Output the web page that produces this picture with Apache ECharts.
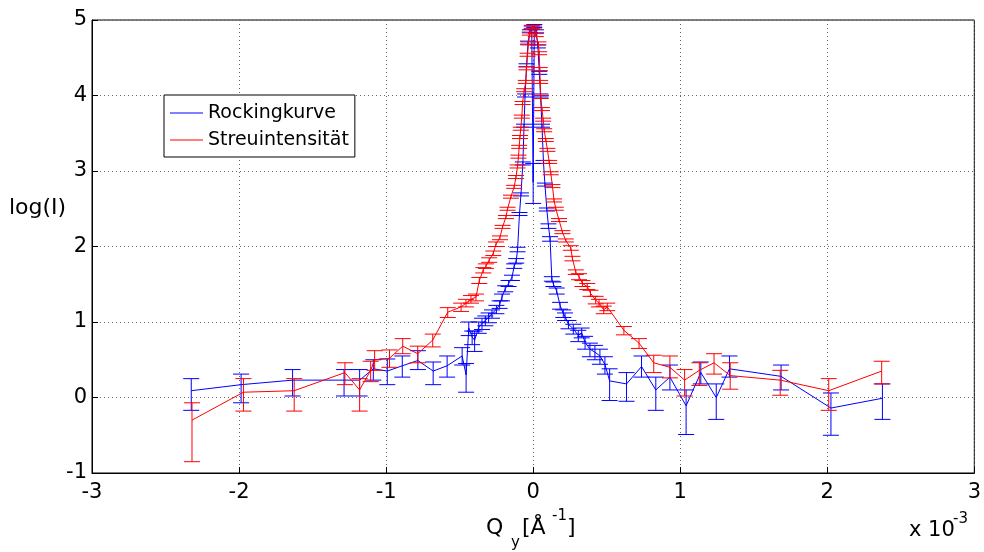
<!DOCTYPE html>
<html>
<head>
<meta charset="utf-8">
<script src="https://cdn.jsdelivr.net/npm/echarts@6/dist/echarts.min.js"></script>
<style>
html,body{margin:0;padding:0;background:#fff;}
#chart{width:984px;height:552px;}
</style>
</head>
<body>
<div id="chart"></div>
<script>
// x values in units of 1e-3 Å^-1, y = log(I)
var xTicks = [-3, -2, -1, 0, 1, 2, 3];
var yTicks = [-1, 0, 1, 2, 3, 4, 5];

// Rockingkurve (blue)
var rockX = [-2.325,-1.986,-1.636,-1.286,-1.18,-1.087,-0.992,-0.89,-0.784,-0.68,-0.585,-0.483,-0.456,-0.438,-0.415,-0.398,-0.37,-0.348,-0.325,-0.303,-0.28,-0.25,-0.228,-0.212,-0.19,-0.167,-0.144,-0.129,-0.115,-0.106,-0.093,-0.083,-0.07,-0.062,-0.055,-0.045,-0.035,-0.022,-0.01,0.0,0.008,0.02,0.032,0.042,0.05,0.06,0.07,0.08,0.093,0.104,0.115,0.127,0.138,0.16,0.183,0.205,0.217,0.24,0.273,0.307,0.33,0.353,0.386,0.42,0.454,0.488,0.52,0.635,0.737,0.834,0.93,1.04,1.14,1.245,1.335,1.686,2.025,2.375];
var rockY = [0.09,0.17,0.23,0.23,0.23,0.38,0.35,0.42,0.49,0.35,0.42,0.55,0.30,0.92,0.80,0.76,0.93,0.98,1.02,1.06,1.11,1.17,1.23,1.33,1.44,1.51,1.59,1.74,1.81,1.96,2.43,2.69,3.10,3.60,4.00,4.40,4.70,4.85,4.90,2.85,4.92,4.85,4.65,4.30,4.00,3.60,3.12,2.82,2.49,2.27,2.10,1.57,1.50,1.41,1.22,1.11,1.07,0.97,0.91,0.82,0.86,0.73,0.64,0.60,0.55,0.44,0.22,0.18,0.41,0.10,0.27,-0.11,0.33,0.00,0.38,0.28,-0.14,-0.01];
var rockErrLow = [0.26,0.24,0.21,0.21,0.21,0.15,0.18,0.15,0.12,0.18,0.15,0.12,0.23,0.10,0.10,0.15,0.08,0.08,0.07,0.07,0.06,0.06,0.05,0.05,0.04,0.04,0.04,0.03,0.03,0.03,0.02,0.02,0.02,0.02,0.02,0.02,0.02,0.02,0.02,0.28,0.02,0.02,0.02,0.02,0.02,0.02,0.02,0.02,0.02,0.03,0.03,0.03,0.03,0.04,0.05,0.05,0.05,0.06,0.07,0.08,0.07,0.09,0.10,0.10,0.11,0.13,0.26,0.23,0.14,0.27,0.17,0.38,0.15,0.29,0.11,0.18,0.36,0.28];
var rockErrHigh = [0.16,0.14,0.14,0.14,0.14,0.12,0.16,0.13,0.13,0.12,0.13,0.11,0.15,0.08,0.08,0.12,0.07,0.07,0.06,0.06,0.05,0.05,0.05,0.04,0.04,0.04,0.03,0.03,0.03,0.03,0.02,0.02,0.02,0.02,0.02,0.02,0.02,0.02,0.02,0.25,0.02,0.02,0.02,0.02,0.02,0.02,0.02,0.02,0.02,0.03,0.03,0.03,0.03,0.04,0.04,0.05,0.05,0.05,0.06,0.07,0.06,0.08,0.08,0.09,0.09,0.10,0.16,0.15,0.14,0.17,0.16,0.21,0.14,0.18,0.17,0.15,0.20,0.19];

// Streuintensität (red)
var scatX = [-2.32,-1.97,-1.625,-1.28,-1.18,-1.105,-1.078,-0.977,-0.887,-0.785,-0.683,-0.581,-0.49,-0.457,-0.423,-0.389,-0.366,-0.339,-0.321,-0.299,-0.271,-0.253,-0.226,-0.208,-0.185,-0.174,-0.151,-0.129,-0.117,-0.106,-0.1,-0.095,-0.09,-0.084,-0.077,-0.072,-0.061,-0.05,-0.045,-0.038,-0.032,-0.023,-0.009,0.006,0.018,0.036,0.041,0.045,0.048,0.052,0.06,0.068,0.075,0.086,0.097,0.109,0.12,0.131,0.142,0.154,0.176,0.199,0.222,0.256,0.267,0.29,0.312,0.335,0.368,0.39,0.425,0.448,0.48,0.504,0.617,0.72,0.82,0.93,1.03,1.13,1.23,1.34,1.68,2.01,2.37];
var scatY = [-0.30,0.07,0.09,0.33,0.10,0.36,0.50,0.52,0.68,0.58,0.76,1.13,1.20,1.25,1.30,1.33,1.55,1.69,1.74,1.82,1.91,2.03,2.12,2.26,2.39,2.50,2.66,2.79,2.92,3.06,3.19,3.32,3.45,3.56,3.72,3.90,4.07,4.18,4.36,4.54,4.69,4.82,4.91,4.90,4.80,4.69,4.56,4.35,4.18,3.98,3.82,3.68,3.54,3.41,3.28,3.12,2.97,2.80,2.61,2.50,2.35,2.19,2.08,1.98,1.84,1.66,1.60,1.51,1.47,1.38,1.29,1.25,1.16,1.20,0.89,0.72,0.46,0.40,0.23,0.36,0.46,0.29,0.23,0.09,0.35];
var scatErrLow = [0.55,0.25,0.27,0.16,0.28,0.15,0.14,0.12,0.10,0.12,0.09,0.07,0.06,0.05,0.05,0.05,0.04,0.04,0.03,0.03,0.03,0.03,0.03,0.02,0.02,0.02,0.02,0.02,0.02,0.02,0.02,0.02,0.02,0.02,0.02,0.02,0.02,0.02,0.02,0.02,0.02,0.02,0.02,0.02,0.02,0.02,0.02,0.02,0.02,0.02,0.02,0.02,0.02,0.02,0.02,0.02,0.02,0.02,0.02,0.02,0.02,0.02,0.02,0.03,0.03,0.03,0.04,0.04,0.04,0.04,0.05,0.05,0.05,0.05,0.06,0.07,0.13,0.14,0.21,0.20,0.15,0.18,0.20,0.26,0.17];
var scatErrHigh = [0.23,0.18,0.16,0.13,0.15,0.12,0.12,0.11,0.10,0.10,0.08,0.06,0.05,0.05,0.05,0.04,0.04,0.03,0.03,0.03,0.03,0.03,0.02,0.02,0.02,0.02,0.02,0.02,0.02,0.02,0.02,0.02,0.02,0.02,0.02,0.02,0.02,0.02,0.02,0.02,0.02,0.02,0.02,0.02,0.02,0.02,0.02,0.02,0.02,0.02,0.02,0.02,0.02,0.02,0.02,0.02,0.02,0.02,0.02,0.02,0.02,0.02,0.02,0.03,0.03,0.03,0.04,0.04,0.04,0.04,0.05,0.05,0.05,0.05,0.05,0.06,0.10,0.15,0.14,0.10,0.12,0.17,0.13,0.16,0.13];

var FONT = "'DejaVu Sans', 'Liberation Sans', Arial, sans-serif";

function lineData(xs, ys) {
  return xs.map(function (x, i) { return [x, ys[i]]; });
}
function errData(xs, ys, lo, hi) {
  return xs.map(function (x, i) { return [x, ys[i] - lo[i], ys[i] + hi[i]]; });
}
function errSeries(xs, ys, lo, hi, color, z) {
  return {
    type: 'custom',
    silent: true,
    z: z,
    data: errData(xs, ys, lo, hi),
    encode: { x: 0, y: [1, 2] },
    renderItem: function (params, api) {
      var x = api.value(0);
      var pLo = api.coord([x, api.value(1)]);
      var pHi = api.coord([x, api.value(2)]);
      var hw = 8;
      var st = { stroke: color, lineWidth: 1 };
      return {
        type: 'group',
        children: [
          { type: 'line', shape: { x1: pLo[0], y1: pLo[1], x2: pHi[0], y2: pHi[1] }, style: st },
          { type: 'line', shape: { x1: pLo[0] - hw, y1: pLo[1], x2: pLo[0] + hw, y2: pLo[1] }, style: st },
          { type: 'line', shape: { x1: pHi[0] - hw, y1: pHi[1], x2: pHi[0] + hw, y2: pHi[1] }, style: st }
        ]
      };
    }
  };
}

var chart = echarts.init(document.getElementById('chart'), null, { renderer: 'canvas' });
var option = {
  backgroundColor: '#fff',
  animation: false,
  grid: { left: 92, right: 8, top: 20, bottom: 79, show: true, borderColor: '#000', borderWidth: 1, backgroundColor: 'transparent' },
  xAxis: {
    type: 'value', min: xTicks[0], max: xTicks[xTicks.length - 1], interval: 1,
    axisLine: { onZero: false, lineStyle: { color: '#000', width: 1 } },
    axisTick: { inside: true, length: 6, lineStyle: { color: '#000' } },
    axisLabel: { color: '#000', fontSize: 21, fontFamily: FONT, margin: 9 },
    splitLine: { show: true, lineStyle: { color: '#666', type: [1, 3], width: 1 } }
  },
  yAxis: {
    type: 'value', min: yTicks[0], max: yTicks[yTicks.length - 1], interval: 1,
    axisLine: { show: true, onZero: false, lineStyle: { color: '#000', width: 1 } },
    axisTick: { show: true, inside: true, length: 6, lineStyle: { color: '#000' } },
    axisLabel: { color: '#000', fontSize: 21, fontFamily: FONT, margin: 5 },
    splitLine: { show: true, lineStyle: { color: '#666', type: [1, 3], width: 1 } }
  },
  legend: {
    data: ['Rockingkurve', 'Streuintensität'],
    orient: 'vertical',
    left: 164, top: 95,
    padding: [8, 6, 7, 6],
    itemGap: 7,
    icon: 'rect',
    itemWidth: 33, itemHeight: 1,
    selectedMode: false,
    backgroundColor: '#fff',
    borderColor: '#000', borderWidth: 1,
    textStyle: { color: '#000', fontSize: 19, fontFamily: FONT, lineHeight: 20, height: 20 },
    z: 20
  },
  series: [
    errSeries(rockX, rockY, rockErrLow, rockErrHigh, '#0000ff', 2),
    {
      name: 'Rockingkurve', type: 'line', symbol: 'none', z: 3,
      data: lineData(rockX, rockY),
      lineStyle: { color: '#0000ff', width: 1 }, itemStyle: { color: '#0000ff' }
    },
    errSeries(scatX, scatY, scatErrLow, scatErrHigh, '#ff0000', 4),
    {
      name: 'Streuintensität', type: 'line', symbol: 'none', z: 5,
      data: lineData(scatX, scatY),
      lineStyle: { color: '#ff0000', width: 1 }, itemStyle: { color: '#ff0000' }
    }
  ],
  graphic: [
    { type: 'text', left: 9, top: 197, style: { text: 'log(I)', fontSize: 22, fontFamily: FONT, fill: '#000' } },
    { type: 'text', x: 486, y: 528, style: { text: 'Q', fontSize: 22, fontFamily: FONT, fill: '#000', verticalAlign: 'middle' } },
    { type: 'text', x: 511, y: 543, style: { text: 'y', fontSize: 15, fontFamily: FONT, fill: '#000', verticalAlign: 'middle' } },
    { type: 'text', x: 522, y: 528, style: { text: '[Å', fontSize: 22, fontFamily: FONT, fill: '#000', verticalAlign: 'middle' } },
    { type: 'text', x: 552, y: 516, style: { text: '-1', fontSize: 15, fontFamily: FONT, fill: '#000', verticalAlign: 'middle' } },
    { type: 'text', x: 567, y: 528, style: { text: ']', fontSize: 22, fontFamily: FONT, fill: '#000', verticalAlign: 'middle' } },
    { type: 'text', x: 909, y: 531, style: { text: 'x 10', fontSize: 21, fontFamily: FONT, fill: '#000', verticalAlign: 'middle' } },
    { type: 'text', x: 953, y: 519, style: { text: '-3', fontSize: 15, fontFamily: FONT, fill: '#000', verticalAlign: 'middle' } }
  ]
};
chart.setOption(option);
</script>
</body>
</html>
